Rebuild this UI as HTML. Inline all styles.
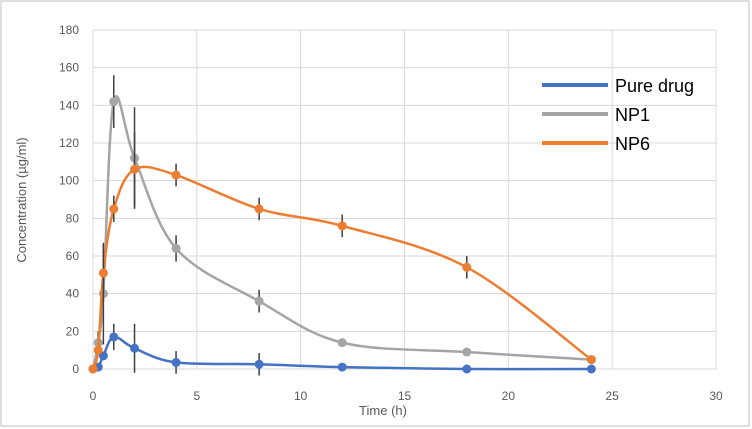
<!DOCTYPE html>
<html><head><meta charset="utf-8"><style>
body{margin:0;background:#fff;font-family:"Liberation Sans",sans-serif}
svg{display:block}
</style></head><body>
<svg id="chart" width="752" height="429">
<rect x="1" y="1" width="748" height="425" fill="#fff" stroke="#bfbfbf"/>
<g id="grid"></g><g id="axes"></g><g id="series"></g>
<text x="383" y="415" font-size="13" fill="#595959" text-anchor="middle">Time (h)</text>
<text transform="translate(26,200) rotate(-90)" font-size="13" fill="#595959" text-anchor="middle">Concentration (µg/ml)</text>
<g id="legend"></g>
</svg>
<script>
const times=[0,0.25,0.5,1,2,4,8,12,18,24];
const pureDrug=[0,1,7,17,11,3.5,2.5,1,0,0];
const pureErr=[0,0,0,7,13,6,6,0,0,0];
const np1=[0,14,40,142,112,64,36,14,9,5];
const np1Err=[0,6,27,14,27,7,6,0,0,0];
const np6=[0,10,51,85,106,103,85,76,54,5];
const np6Err=[0,0,15,7,20,6,6,6,6,0];
const xTicks=[0,5,10,15,20,25,30];
const yTicks=[0,20,40,60,80,100,120,140,160,180];
const names=["Pure drug","NP1","NP6"];
const colors=["#4472C4","#A5A5A5","#ED7D31"];
const X=v=>93+v*(716-93)/30, Y=v=>369-v*(369-30)/180;
const ns="http://www.w3.org/2000/svg";
function mk(t,a,p){const e=document.createElementNS(ns,t);for(const k in a)e.setAttribute(k,a[k]);p.appendChild(e);return e;}
const grid=document.getElementById('grid'),axes=document.getElementById('axes'),ser=document.getElementById('series'),leg=document.getElementById('legend');
yTicks.forEach(v=>{const l=mk('line',{x1:X(0),x2:X(30),y1:Y(v),y2:Y(v),stroke:'#d9d9d9'},grid);

const t=mk('text',{x:X(0)-14,y:Y(v)+4,'font-size':12,fill:'#595959','text-anchor':'end'},axes);t.textContent=v;
});
xTicks.forEach(v=>{const l=mk('line',{x1:X(v),x2:X(v),y1:Y(0),y2:Y(180),stroke:'#d9d9d9'},grid);

const t=mk('text',{x:X(v),y:Y(0)+31,'font-size':12,fill:'#595959','text-anchor':'middle'},axes);t.textContent=v;
});
function path(pts){let d=`M${pts[0][0]},${pts[0][1]}`;for(let i=0;i<pts.length-1;i++){const p0=pts[i-1]||pts[i],p1=pts[i],p2=pts[i+1],p3=pts[i+2]||p2;const k=0.5/3;
d+=` C${p1[0]+(p2[0]-p0[0])*k},${p1[1]+(p2[1]-p0[1])*k} ${p2[0]-(p3[0]-p1[0])*k},${p2[1]-(p3[1]-p1[1])*k} ${p2[0]},${p2[1]}`;}return d;}
[[pureDrug,pureErr],[np1,np1Err],[np6,np6Err]].forEach(([vals,errs],s)=>{
const g=mk('g',{},ser);
const pts=times.map((t,i)=>[X(t),Y(vals[i])]);
const p=mk('path',{d:path(pts),fill:'none',stroke:colors[s],'stroke-width':2.5},g);

times.forEach((t,i)=>{if(errs[i]>0){const e=mk('line',{x1:X(t),x2:X(t),y1:Y(vals[i]-errs[i]),y2:Y(vals[i]+errs[i]),stroke:'#404040','stroke-width':1.5},g);
}
const c=mk('circle',{cx:X(t),cy:Y(vals[i]),r:4.5,fill:colors[s]},g);
});
const ly=85+s*29;
const ll=mk('line',{x1:542,x2:608,y1:ly,y2:ly,stroke:colors[s],'stroke-width':4},leg);

const lt=mk('text',{x:615,y:ly+7,'font-size':18,fill:'#000'},leg);lt.textContent=names[s];

});
</script>
</body></html>
